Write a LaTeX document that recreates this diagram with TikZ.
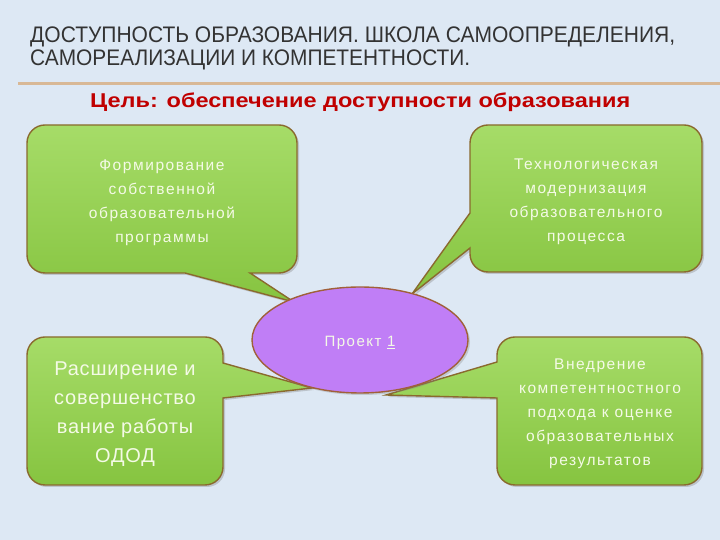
\documentclass[tikz,border=0pt]{standalone}
\usepackage{fontspec}
\setmainfont{Liberation Sans}
\usetikzlibrary{shadows,shapes.geometric}
\definecolor{bgblue}{HTML}{DDE8F4}
\definecolor{titlegray}{HTML}{333333}
\definecolor{goalred}{HTML}{C00000}
\definecolor{greenA}{HTML}{A6DC68}
\definecolor{greenB}{HTML}{86C440}
\definecolor{brownedge}{HTML}{8A6A2E}
\definecolor{purplefill}{HTML}{C07EF6}
\definecolor{purpleedge}{HTML}{A0603A}
\definecolor{paletext}{HTML}{F4FAE6}
\definecolor{rulecol}{HTML}{D8B896}
\tikzset{
  bubble/.style={draw=brownedge, line width=1.4pt, top color=greenA, bottom color=greenB,
    drop shadow={opacity=0.35, shadow xshift=2pt, shadow yshift=-2pt}},
  bubbletext/.style={align=center, text=paletext, inner sep=0pt,
    font=\fontsize{15.5}{24}\selectfont\addfontfeature{LetterSpace=10}},
  bigtext/.style={align=center, text=paletext, inner sep=0pt,
    font=\fontsize{20}{29}\selectfont\addfontfeature{LetterSpace=4}},
  hub/.style={ellipse, draw=purpleedge, line width=1.4pt, fill=purplefill,
    minimum width=216pt, minimum height=106pt, inner sep=0pt,
    drop shadow={opacity=0.3, shadow xshift=2pt, shadow yshift=-2pt}},
}
\begin{document}
\begin{tikzpicture}[x=1pt,y=1pt]
\useasboundingbox (0,0) rectangle (720,540);
\fill[bgblue] (0,0) rectangle (720,540);
% title
\node[anchor=base west, inner sep=0pt, text=titlegray, font=\fontsize{22.5}{24}\selectfont] (t1) at (30,497)
  {\resizebox{645pt}{\height}{ДОСТУПНОСТЬ ОБРАЗОВАНИЯ. ШКОЛА САМООПРЕДЕЛЕНИЯ,}};
\node[anchor=base west, inner sep=0pt, text=titlegray, font=\fontsize{22.5}{24}\selectfont] (t2) at (30,474)
  {\resizebox{440pt}{\height}{САМОРЕАЛИЗАЦИИ И КОМПЕТЕНТНОСТИ.}};
\fill[rulecol] (18,455) rectangle (720,457.5);
\node[anchor=base west, inner sep=0pt, text=goalred, font=\fontsize{20}{22}\bfseries\selectfont] (goal) at (90,432)
  {\resizebox{540pt}{\height}{Цель: обеспечение доступности образования}};
% callouts
\draw[bubble] (27,285) -- (27,397) arc[start angle=180,end angle=90,radius=18]
  -- (279,415) arc[start angle=90,end angle=0,radius=18]
  -- (297,285) arc[start angle=0,end angle=-90,radius=18]
  -- (250,267) -- (294,238) -- (185,267)
  -- (45,267) arc[start angle=270,end angle=180,radius=18] -- cycle;
\draw[bubble] (488,415) -- (684,415) arc[start angle=90,end angle=0,radius=18]
  -- (702,286) arc[start angle=0,end angle=-90,radius=18]
  -- (488,268) arc[start angle=270,end angle=180,radius=18]
  -- (470,292) -- (412,246) -- (470,327)
  -- (470,397) arc[start angle=180,end angle=90,radius=18] -- cycle;
\draw[bubble] (45,203) -- (205,203) arc[start angle=90,end angle=0,radius=18]
  -- (223,177) -- (312,152) -- (223,142)
  -- (223,73) arc[start angle=0,end angle=-90,radius=18]
  -- (45,55) arc[start angle=270,end angle=180,radius=18]
  -- (27,185) arc[start angle=180,end angle=90,radius=18] -- cycle;
\draw[bubble] (515,203) -- (684,203) arc[start angle=90,end angle=0,radius=18]
  -- (702,73) arc[start angle=0,end angle=-90,radius=18]
  -- (515,55) arc[start angle=270,end angle=180,radius=18]
  -- (497,142) -- (386,145) -- (497,178)
  -- (497,185) arc[start angle=180,end angle=90,radius=18] -- cycle;
% hub
\node[hub] (hub) at (360,200) {};
\node[text=paletext, font=\fontsize{15}{16}\selectfont\addfontfeature{LetterSpace=10}, inner sep=0pt] (hubtext) at (360,197) {Проект \underline{1}};
% texts
\node[bubbletext] (tl) at (162,337) {Формирование\\собственной\\образовательной\\программы};
\node[bubbletext] (tr) at (586,338) {Технологическая\\модернизация\\образовательного\\процесса};
\node[bigtext] (bl) at (125,126) {Расширение и\\совершенство\\вание работы\\ОДОД};
\node[bubbletext] (br) at (600,126) {Внедрение\\компетентностного\\подхода к оценке\\образовательных\\результатов};
\end{tikzpicture}
\end{document}
